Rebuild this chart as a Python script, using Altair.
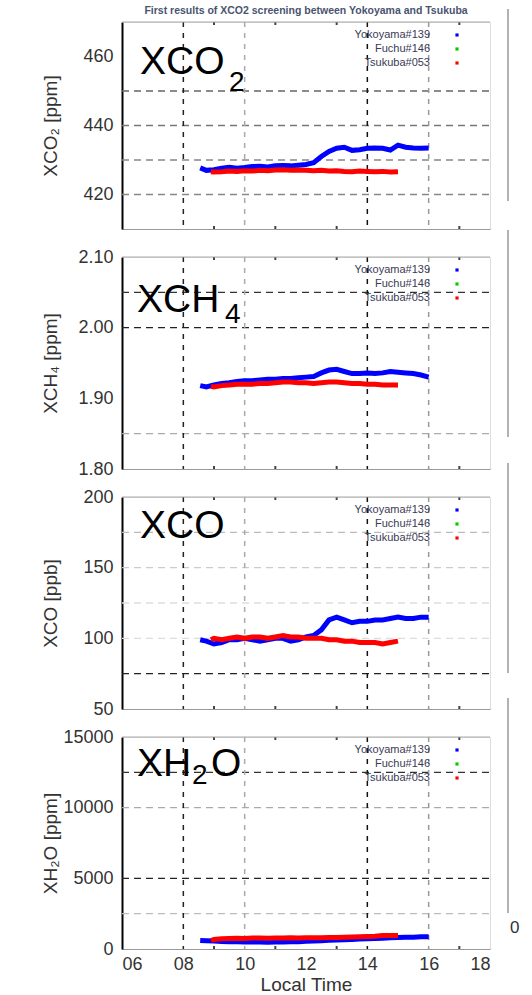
import altair as alt
import pandas as pd

# ---------------- data ----------------
hours_blue = [8.55, 8.75, 9.0, 9.25, 9.5, 9.75, 10.0, 10.25, 10.5, 10.75, 11.0, 11.25,
              11.5, 11.75, 12.0, 12.25, 12.5, 12.75, 13.0, 13.25, 13.5, 13.75, 14.0,
              14.25, 14.5, 14.75, 15.0, 15.25, 15.5, 15.75, 16.0]
hours_red = [8.9, 9.0, 9.25, 9.5, 9.75, 10.0, 10.25, 10.5, 10.75, 11.0, 11.25, 11.5,
             11.75, 12.0, 12.25, 12.5, 12.75, 13.0, 13.25, 13.5, 13.75, 14.0, 14.25,
             14.5, 14.75, 15.0]

xco2_blue = [427.7, 427.0, 427.2, 427.6, 427.9, 427.6, 427.8, 428.1, 428.2, 428.0, 428.3,
             428.4, 428.3, 428.5, 428.7, 429.2, 431.0, 432.5, 433.4, 433.7, 432.8, 433.0,
             433.4, 433.5, 433.4, 432.9, 434.3, 433.7, 433.5, 433.4, 433.5]
xco2_red = [426.6, 426.5, 426.6, 426.8, 426.7, 426.9, 426.8, 427.0, 426.9, 427.1, 427.2,
            427.0, 427.1, 427.0, 426.9, 427.0, 426.8, 426.9, 426.7, 426.6, 426.8, 426.7,
            426.6, 426.7, 426.5, 426.6]

xch4_blue = [1.918, 1.916, 1.919, 1.921, 1.922, 1.924, 1.925, 1.925, 1.926, 1.927, 1.927,
             1.928, 1.928, 1.929, 1.930, 1.931, 1.936, 1.940, 1.941, 1.938, 1.935, 1.935,
             1.936, 1.935, 1.936, 1.938, 1.937, 1.936, 1.935, 1.933, 1.930]
xch4_red = [1.917, 1.916, 1.918, 1.919, 1.920, 1.920, 1.920, 1.921, 1.921, 1.922, 1.923,
            1.923, 1.922, 1.922, 1.921, 1.922, 1.923, 1.923, 1.922, 1.921, 1.921, 1.920,
            1.920, 1.919, 1.919, 1.919]

xco_blue = [99, 98, 96, 97, 99, 99, 100, 99, 98, 99, 100, 100, 98, 99, 101, 102, 106, 113,
            115, 113, 111, 112, 112, 113, 113, 114, 115, 114, 114, 115, 115]
xco_red = [99, 100, 99, 100, 101, 100, 101, 101, 100, 101, 102, 101, 101, 100, 100, 100,
           99, 99, 98, 98, 97, 97, 97, 96, 97, 98]

xh2o_blue = [600, 580, 560, 530, 520, 510, 500, 490, 500, 480, 490, 500, 510, 520, 540, 560,
             590, 620, 640, 650, 680, 700, 720, 740, 760, 790, 820, 840, 840, 860, 870]
xh2o_red = [600, 680, 720, 740, 760, 750, 770, 780, 760, 770, 780, 790, 780, 790, 800, 790,
            810, 820, 830, 850, 860, 880, 900, 950, 960, 960]

legend_labels = ["Yokoyama#139", "Fuchu#146", "Tsukuba#053"]
legend_colors = ["#0000ff", "#00cc00", "#ff0000"]

y_titles = ["XCO\u2082 [ppm]", "XCH\u2084 [ppm]", "XCO [ppb]", "XH\u2082O [ppm]"]
y_domains = [[410, 470], [1.80, 2.10], [50, 200], [0, 15000]]
y_ticks = [[420, 440, 460], [1.8, 1.9, 2.0, 2.1], [50, 100, 150, 200], [0, 5000, 10000, 15000]]
y_formats = ["d", ".2f", "d", "d"]
hgrid_values = [[450, 440, 430, 420], [2.05, 2.00, 1.85], [175, 150, 125, 100, 75],
                [12500, 10000, 5000, 2500]]
hgrid_shades = [["#666666", "#777777", "#888888", "#888888"],
                ["#333333", "#222222", "#aaaaaa"],
                ["#bbbbbb", "#cccccc", "#dddddd", "#dddddd", "#222222"],
                ["#333333", "#aaaaaa", "#222222", "#bbbbbb"]]
vgrid_hours = [8, 10, 14, 16]
vgrid_shades = ["#222222", "#aaaaaa", "#111111", "#999999"]
minor_hours = [9, 11, 13, 17]
x_tick_hours = [6, 8, 10, 12, 14, 16, 18]

series_blue = [xco2_blue, xch4_blue, xco_blue, xh2o_blue]
series_red = [xco2_red, xch4_red, xco_red, xh2o_red]

# big in-panel labels: (text, x offset, baseline, font size)
big_labels = [
    [("XCO", 18, 52, 39), ("2", 107, 69, 28)],
    [("XCH", 15, 55, 39), ("4", 103, 66, 28)],
    [("XCO", 18, 41, 39)],
    [("XH", 15, 39, 39), ("2", 70, 47, 28), ("O", 89, 39, 39)],
]
right_segments = [(-13, 179), (-27, 180), (-34, 176), (-39, 176)]

W = 368
heights = [207, 212, 212, 212]
FONT = "Liberation Sans"
TXT = "#333333"


def make_panel(i):
    H = heights[i]
    last = i == 3
    xs = alt.Scale(domain=[6, 18], nice=False, zero=False)
    ys = alt.Scale(domain=y_domains[i], nice=False, zero=False)
    xaxis = alt.Axis(values=x_tick_hours, labels=last, ticks=False, grid=False,
                     domain=True, domainColor="#9a9a9a", domainWidth=1,
                     labelExpr="datum.value < 10 ? '0' + datum.value : '' + datum.value",
                     labelFontSize=18, labelColor=TXT, labelPadding=6, labelFont=FONT,
                     titleFontSize=19, titleColor=TXT, titleFontWeight="normal",
                     titlePadding=2, titleFont=FONT)
    yaxis = alt.Axis(values=y_ticks[i], format=y_formats[i], grid=False, ticks=False,
                     domain=True, domainColor="black", domainWidth=2,
                     labelFontSize=18, labelColor=TXT, labelPadding=9, labelFont=FONT,
                     titleFontSize=19, titleFontWeight="normal", titleColor=TXT,
                     titleFont=FONT, titleX=-72, titleY=H / 2, titleAngle=270,
                     titleAlign="center", titleBaseline="middle")

    def X(f):
        return alt.X(f, type="quantitative", scale=xs, axis=xaxis,
                     title=("Local Time" if last else None))

    def Y(f):
        return alt.Y(f, type="quantitative", scale=ys, axis=yaxis, title=y_titles[i])

    hg = pd.DataFrame({"v": hgrid_values[i], "c": hgrid_shades[i]})
    vg = pd.DataFrame({"h": vgrid_hours, "c": vgrid_shades})
    mn = pd.DataFrame({"h": minor_hours})
    one = pd.DataFrame({"a": [0]})

    layers = []
    layers.append(alt.Chart(hg).mark_rule(strokeDash=[7, 5], strokeWidth=1.3).encode(
        y=Y("v"), x=alt.value(0), x2=alt.value(W), color=alt.Color("c:N", scale=None)))
    layers.append(alt.Chart(vg).mark_rule(strokeDash=[5, 6], strokeWidth=1.5).encode(
        x=X("h"), y=alt.value(0), y2=alt.value(H), color=alt.Color("c:N", scale=None)))
    layers.append(alt.Chart(mn).mark_rule(strokeWidth=2, color="#444444").encode(
        x=X("h"), y=alt.value(0), y2=alt.value(3)))
    layers.append(alt.Chart(mn).mark_rule(strokeWidth=2, color="#444444").encode(
        x=X("h"), y=alt.value(H - 3), y2=alt.value(H)))
    layers.append(alt.Chart(one).mark_rule(color="#aaaaaa", strokeWidth=1).encode(
        x=alt.value(0), x2=alt.value(W), y=alt.value(0)))

    blue = pd.DataFrame({"h": hours_blue, "v": series_blue[i]})
    red = pd.DataFrame({"h": hours_red, "v": series_red[i]})
    layers.append(alt.Chart(blue).mark_line(color="#0000ff", strokeWidth=5).encode(
        x=X("h"), y=Y("v")))
    layers.append(alt.Chart(red).mark_line(color="#ff0000", strokeWidth=5).encode(
        x=X("h"), y=Y("v")))

    # legend (label then symbol, as in the reference)
    lg = pd.DataFrame({"label": legend_labels, "col": legend_colors,
                       "k": list(range(len(legend_labels)))})
    layers.append(alt.Chart(lg).transform_calculate(ry="13 + 14 * datum.k").mark_text(
        align="right", baseline="middle", fontSize=11, font=FONT, color="#3a3a55").encode(
        x=alt.value(308), y=alt.Y("ry:Q", scale=None), text="label:N"))
    layers.append(alt.Chart(lg).transform_calculate(ry="13 + 14 * datum.k").mark_square(
        size=10, opacity=1).encode(
        x=alt.value(335), y=alt.Y("ry:Q", scale=None), color=alt.Color("col:N", scale=None)))

    # big labels
    for (t, dx, by, fs) in big_labels[i]:
        layers.append(alt.Chart(one).mark_text(
            text=t, align="left", baseline="alphabetic", fontSize=fs, font=FONT,
            color="black").encode(x=alt.value(dx), y=alt.value(by)))

    # right-side border fragment
    s0, s1 = right_segments[i]
    layers.append(alt.Chart(one).mark_rule(color="#999999", strokeWidth=1.5).encode(
        x=alt.value(386), y=alt.value(s0), y2=alt.value(s1)))

    if i == 0:
        layers.append(alt.Chart(one).mark_text(
            text="First results of XCO2 screening between Yokoyama and Tsukuba",
            align="center", baseline="middle", fontSize=10.5, font=FONT, fontWeight="bold",
            color="#4a5470").encode(x=alt.value(W / 2), y=alt.value(-11)))
    if last:
        layers.append(alt.Chart(one).mark_text(
            text="0", align="left", baseline="middle", fontSize=17, font=FONT,
            color=TXT).encode(x=alt.value(388), y=alt.value(191)))

    return alt.layer(*layers).properties(width=W, height=H)


chart = alt.vconcat(*[make_panel(i) for i in range(4)], spacing=28, bounds="flush").properties(
    padding={"left": 40, "top": 5, "right": 0, "bottom": 0}
).configure_view(stroke=None).configure(background="white")

chart.save("out.html", embed_options={"renderer": "svg", "actions": False})
